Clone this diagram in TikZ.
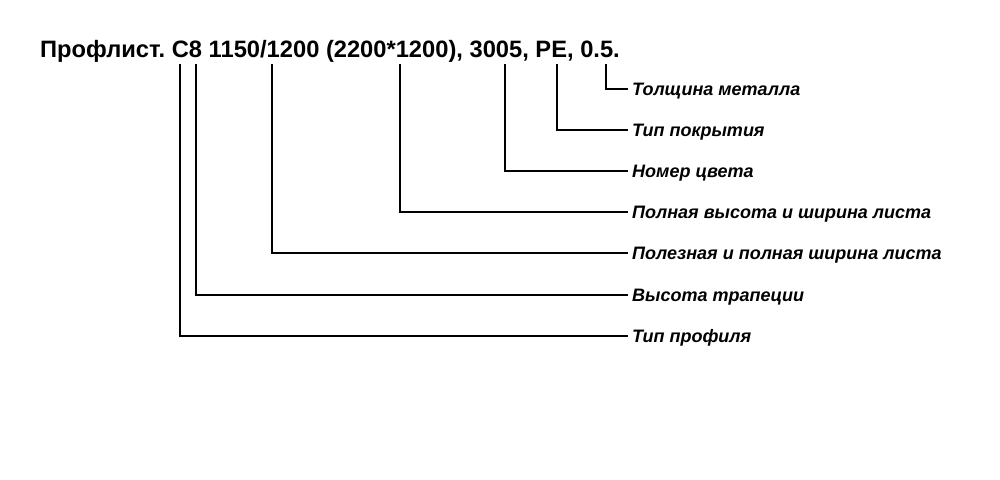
\documentclass[tikz,border=0pt]{standalone}
\usepackage{fontspec}
\setmainfont{Liberation Sans}
\frenchspacing
\begin{document}
\begin{tikzpicture}[x=1pt,y=-1pt,
  title/.style={inner sep=0pt,anchor=base west,font=\fontsize{23.7}{28}\selectfont\bfseries},
  lab/.style={inner sep=0pt,anchor=base west,font=\fontsize{18}{21}\selectfont\bfseries\itshape},
  conn/.style={line width=2.7pt}]
\useasboundingbox[fill=white] (0,0) rectangle (1000,479);
\node[title] (t) at (40,57) {Профлист. С8 1150/1200 (2200*1200), 3005, PE, 0.5.};
\foreach \n/\x in {a/606,b/557,c/505,d/400,e/272,f/196,g/180}
  \coordinate (\n) at (\x,64);
\node[lab] (la) at (632,95.5) {Толщина металла};
\node[lab] (lb) at (632,136.5) {Тип покрытия};
\node[lab] (lc) at (632,177.5) {Номер цвета};
\node[lab] (ld) at (632,218.5) {Полная высота и ширина листа};
\node[lab] (le) at (632,259.5) {Полезная и полная ширина листа};
\node[lab] (lf) at (632,301.5) {Высота трапеции};
\node[lab] (lg) at (632,342.5) {Тип профиля};
\foreach \n in {a,b,c,d,e,f,g}
  \draw[conn] (\n) |- ([shift={(-4pt,6.5pt)}]l\n.base west);
\end{tikzpicture}
\end{document}
